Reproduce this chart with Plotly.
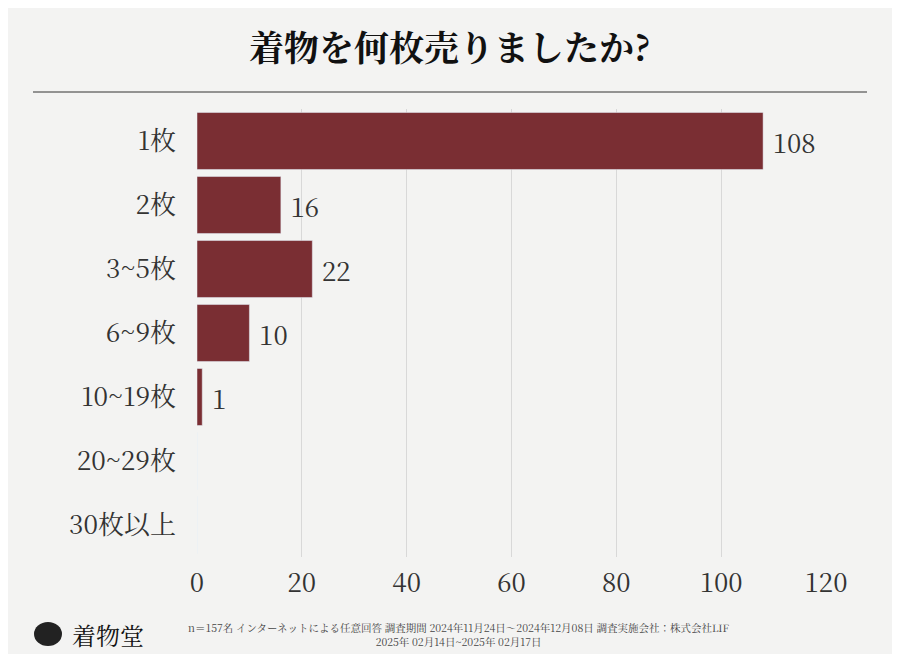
import plotly.graph_objects as go

categories = ["1枚", "2枚", "3~5枚", "6~9枚", "10~19枚", "20~29枚", "30枚以上"]
counts = [108, 16, 22, 10, 1, 0, 0]
bar_labels = ["108", "16", "22", "10", "1", "", ""]
x_ticks = [0, 20, 40, 60, 80, 100, 120]

W, H = 900, 654
OFF = 8  # page body margin
SERIF = "Noto Serif CJK JP, Noto Sans CJK JP, serif"


def px(x):
    return (x - OFF) / W


def py(y):
    return 1 - (y - OFF) / H


fig = go.Figure(go.Bar(
    x=counts, y=categories, orientation="h",
    marker=dict(color="#7a2e33"), width=0.89,
    text=[" " + t if t else t for t in bar_labels],
    textposition="outside", cliponaxis=False,
    textfont=dict(size=26, color="#333333", family=SERIF),
))

fig.update_layout(
    width=W, height=H, margin=dict(l=0, r=0, t=0, b=0),
    paper_bgcolor="#f3f3f2", plot_bgcolor="rgba(0,0,0,0)",
    showlegend=False, font=dict(family=SERIF, color="#333333"),
    xaxis=dict(domain=[px(197), px(826)], range=[0, 120], tickvals=x_ticks,
               showgrid=True, gridcolor="#d8d8d8", gridwidth=1, zeroline=False,
               tickfont=dict(size=26, color="#333333"), ticklen=0,
               automargin=False, ticklabelstandoff=8),
    yaxis=dict(domain=[py(557), py(109)], autorange="reversed",
               tickfont=dict(size=26, color="#333333"), ticklen=0,
               automargin=False, showline=False, ticklabelstandoff=20),
    shapes=[dict(type="line", xref="paper", yref="paper",
                 x0=px(33), x1=px(867), y0=py(92), y1=py(92),
                 line=dict(color="#333333", width=1)),
            dict(type="circle", xref="paper", yref="paper",
                 x0=px(34), x1=px(62), y0=py(646), y1=py(622),
                 fillcolor="#222222", line=dict(width=0))],
    annotations=[
        dict(text="<b>着物を何枚売りましたか?</b>", x=px(450), y=py(46),
             xref="paper", yref="paper", showarrow=False, yanchor="middle",
             font=dict(size=35, color="#111111", family=SERIF)),
        dict(text="着物堂", x=px(70), y=py(634), xref="paper", yref="paper",
             xanchor="left", yanchor="middle", showarrow=False,
             font=dict(size=24, color="#111111", family=SERIF)),
        dict(text="n＝157名 インターネットによる任意回答 調査期間 2024年11月24日～2024年12月08日 調査実施会社：株式会社LIF<br>2025年 02月14日~2025年 02月17日",
             x=px(459), y=py(634), xref="paper", yref="paper",
             showarrow=False, align="center", yanchor="middle",
             font=dict(size=10.5, color="#444444", family=SERIF)),
    ],
)
fig.write_html("out.html")
